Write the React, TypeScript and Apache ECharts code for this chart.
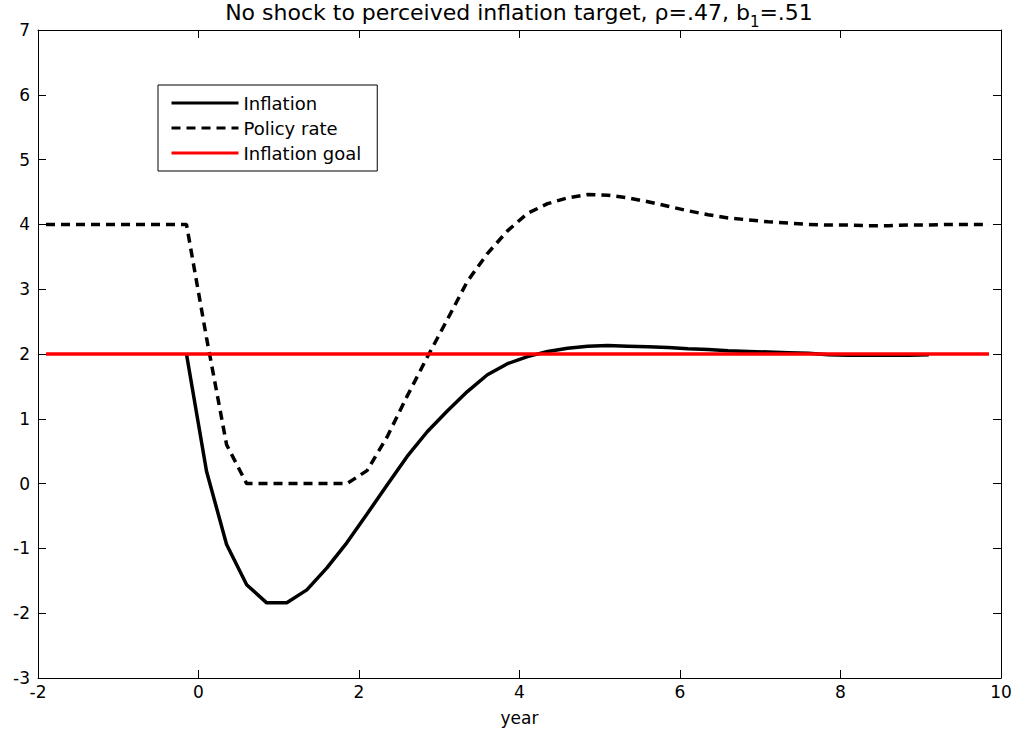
import React, { useEffect, useRef } from "react";
import * as echarts from "echarts";

// Quarterly impulse responses, in years relative to the shock
const inflationYears = [
  -0.15, 0.1, 0.35, 0.6, 0.85, 1.1, 1.35, 1.6, 1.85, 2.1, 2.35, 2.6, 2.85, 3.1, 3.35, 3.6, 3.85, 4.1, 4.35,
  4.6, 4.85, 5.1, 5.35, 5.6, 5.85, 6.1, 6.35, 6.6, 6.85, 7.1, 7.35, 7.6, 7.85, 8.1, 8.35, 8.6, 8.85, 9.1,
];
const inflationValues = [
  2.0, 0.19, -0.94, -1.56, -1.84, -1.84, -1.64, -1.3, -0.91, -0.47, -0.02, 0.42, 0.8, 1.12, 1.42, 1.68, 1.85,
  1.96, 2.04, 2.09, 2.12, 2.13, 2.12, 2.11, 2.1, 2.08, 2.07, 2.05, 2.04, 2.03, 2.02, 2.01, 1.99, 1.98, 1.98,
  1.98, 1.98, 1.99,
];

const policyYears = [
  -1.9, -1.65, -1.4, -1.15, -0.9, -0.65, -0.4, -0.15, 0.1, 0.35, 0.6, 0.85, 1.1, 1.35, 1.6, 1.85, 2.1, 2.35,
  2.6, 2.85, 3.1, 3.35, 3.6, 3.85, 4.1, 4.35, 4.6, 4.85, 5.1, 5.35, 5.6, 5.85, 6.1, 6.35, 6.6, 6.85, 7.1, 7.35,
  7.6, 7.85, 8.1, 8.35, 8.6, 8.85, 9.1, 9.35, 9.6, 9.85,
];
const policyValues = [
  4, 4, 4, 4, 4, 4, 4, 4, 2.25, 0.6, 0, 0, 0, 0, 0, 0, 0.2, 0.72, 1.35, 1.95, 2.53, 3.12, 3.55, 3.9, 4.17,
  4.32, 4.41, 4.46, 4.45, 4.41, 4.35, 4.28, 4.21, 4.15, 4.1, 4.07, 4.04, 4.02, 4.0, 3.99, 3.99, 3.98, 3.98,
  3.99, 3.99, 4.0, 4.0, 4.0,
];

const goalYears = [-1.9, 9.85];
const goalValues = [2, 2];

const seriesNames = ["Inflation", "Policy rate", "Inflation goal"];

const FONT = "DejaVu Sans";

const pairs = (xs: number[], ys: number[]) => xs.map((x, i) => [x, ys[i]]);

export default function App() {
  const ref = useRef<HTMLDivElement>(null);

  useEffect(() => {
    if (!ref.current) return;
    const chart = echarts.init(ref.current, null, { renderer: "svg" });

    const axisLine = { show: true, onZero: false, lineStyle: { color: "#000", width: 1 } };
    const tick = { show: true, inside: true, length: 8, lineStyle: { color: "#000", width: 1 } };
    const label = { color: "#000", fontSize: 17, fontFamily: FONT };

    chart.setOption({
      animation: false,
      backgroundColor: "#fff",
      textStyle: { fontFamily: FONT },
      grid: { left: 38, right: 20, top: 30, bottom: 58, containLabel: false },
      graphic: [
        {
          type: "text",
          x: 519,
          y: 1,
          style: {
            text: "{m|No shock to perceived inflation target, ρ=.47, b}{s|1}{m|=.51}",
            textAlign: "center",
            textVerticalAlign: "top",
            fill: "#000",
            rich: {
              m: { fontSize: 22, fontFamily: FONT, lineHeight: 24, verticalAlign: "top", fill: "#000" },
              s: {
                fontSize: 15,
                fontFamily: FONT,
                lineHeight: 15,
                padding: [13, 0, 0, 0],
                verticalAlign: "top",
                fill: "#000",
              },
            },
          },
        },
      ],
      legend: {
        data: seriesNames,
        orient: "vertical",
        left: 158,
        top: 85,
        padding: [9, 16, 9, 12],
        itemWidth: 67,
        itemHeight: 14,
        itemGap: 7,
        borderColor: "#000",
        borderWidth: 1,
        borderRadius: 0,
        backgroundColor: "#fff",
        itemStyle: { opacity: 0 },
        lineStyle: { width: 3 },
        textStyle: { color: "#000", fontSize: 18, fontFamily: FONT },
      },
      xAxis: [
        {
          type: "value",
          position: "bottom",
          min: -2,
          max: 10,
          interval: 2,
          axisLine,
          axisTick: tick,
          axisLabel: { ...label, margin: 5 },
          splitLine: { show: false },
          name: "year",
          nameLocation: "middle",
          nameGap: 31,
          nameTextStyle: { color: "#000", fontSize: 17, fontFamily: FONT },
        },
        {
          type: "value",
          position: "top",
          min: -2,
          max: 10,
          interval: 2,
          axisLine,
          axisTick: tick,
          axisLabel: { show: false },
          splitLine: { show: false },
        },
      ],
      yAxis: [
        {
          type: "value",
          position: "left",
          min: -3,
          max: 7,
          interval: 1,
          axisLine,
          axisTick: tick,
          axisLabel: { ...label, margin: 8 },
          splitLine: { show: false },
        },
        {
          type: "value",
          position: "right",
          min: -3,
          max: 7,
          interval: 1,
          axisLine,
          axisTick: tick,
          axisLabel: { show: false },
          splitLine: { show: false },
        },
      ],
      series: [
        {
          name: seriesNames[0],
          type: "line",
          data: pairs(inflationYears, inflationValues),
          symbol: "none",
          lineStyle: { color: "#000", width: 3.5, type: "solid" },
          itemStyle: { color: "#000" },
          z: 2,
        },
        {
          name: seriesNames[1],
          type: "line",
          data: pairs(policyYears, policyValues),
          symbol: "none",
          lineStyle: { color: "#000", width: 3.5, type: [9, 6] },
          itemStyle: { color: "#000" },
          z: 2,
        },
        {
          name: seriesNames[2],
          type: "line",
          data: pairs(goalYears, goalValues),
          symbol: "none",
          lineStyle: { color: "#ff0000", width: 3.5, type: "solid" },
          itemStyle: { color: "#ff0000" },
          z: 3,
        },
      ],
    });

    return () => chart.dispose();
  }, []);

  return (
    <div
      ref={ref}
      style={{ position: "absolute", left: 0, top: 0, width: 1021, height: 736, background: "#fff" }}
    />
  );
}
